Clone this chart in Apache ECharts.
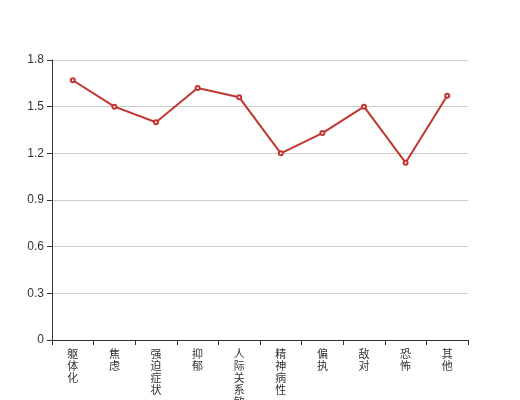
<!DOCTYPE html>
<html>
<head>
<meta charset="utf-8">
<script src="https://cdn.jsdelivr.net/npm/echarts@6/dist/echarts.min.js"></script>
<style>
body { margin: 0; }
#chart { width: 520px; height: 400px; }
</style>
</head>
<body>
<div id="chart"></div>
<script>
// 因子名称
var factors = ["躯体化", "焦虑", "强迫症状", "抑郁", "人际关系敏感", "精神病性", "偏执", "敌对", "恐怖", "其他"];
// 因子均分
var scores = [1.67, 1.5, 1.4, 1.62, 1.56, 1.2, 1.33, 1.5, 1.14, 1.57];

var myChart = echarts.init(document.getElementById("chart"));
myChart.setOption({
  animation: false,
  grid: { left: 52, right: 52, top: 60, bottom: 60, containLabel: false, outerBoundsMode: "none" },
  xAxis: {
    type: "category",
    data: factors,
    axisTick: { show: true, alignWithLabel: false, lineStyle: { color: "#333" } },
    axisLine: { lineStyle: { color: "#333" } },
    axisLabel: {
      interval: 0,
      color: "#333",
      fontSize: 11,
      lineHeight: 12,
      fontFamily: "Noto Sans CJK SC",
      formatter: function (v) { return v.split("").join("\n"); }
    }
  },
  yAxis: {
    type: "value",
    min: 0,
    max: 1.8,
    interval: 0.3,
    axisLine: { show: true, lineStyle: { color: "#333" } },
    axisTick: { show: true, lineStyle: { color: "#333" } },
    axisLabel: { color: "#333", fontSize: 12 },
    splitLine: { lineStyle: { color: "#ccc" } }
  },
  series: [{
    type: "line",
    data: scores,
    symbol: "emptyCircle",
    symbolSize: 4,
    itemStyle: { color: "#c23531" },
    lineStyle: { color: "#c23531", width: 2 }
  }]
});
</script>
</body>
</html>
